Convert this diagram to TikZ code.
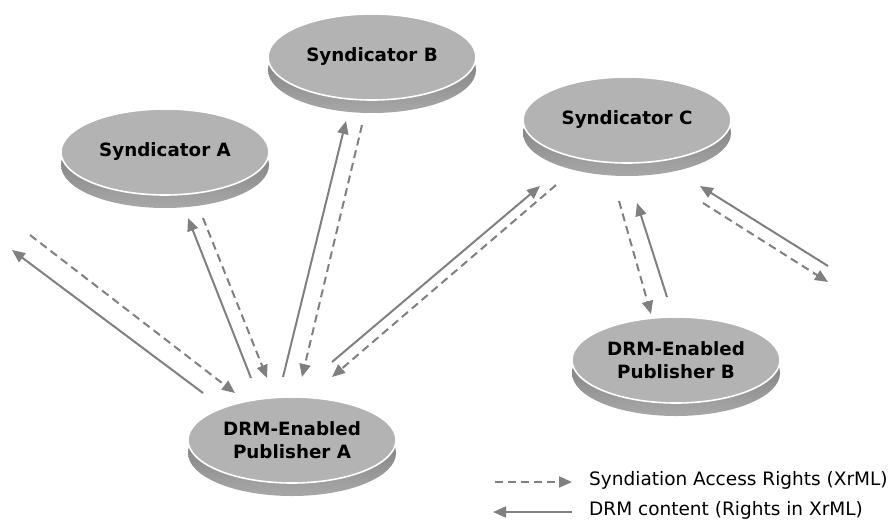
\documentclass[tikz,border=0pt]{standalone}
\usepackage{fontspec}
\setmainfont{DejaVu Sans}
\usetikzlibrary{shapes.geometric,arrows.meta,shadows}

\definecolor{facegray}{HTML}{B3B3B3}
\definecolor{rimdark}{HTML}{6E6E6E}
\definecolor{rimlight}{HTML}{A8A8A8}
\definecolor{linkgray}{HTML}{808080}

\tikzset{
  disk/.style={
    ellipse, inner sep=0pt, minimum width=208pt, minimum height=86pt,
    fill=facegray, draw=white, line width=1.6pt, align=center,
    font=\bfseries\fontsize{18.3}{22.5}\selectfont,
    general shadow={shadow xshift=0pt, shadow yshift=-13pt,
      top color=rimdark, bottom color=rimlight, draw=none}
  },
  link/.style={draw=linkgray, line width=2pt,
    -{Triangle[length=13pt,width=11pt]}},
  rights/.style={link, dash pattern=on 8pt off 5pt},
  content/.style={link},
  legendtext/.style={anchor=west, inner sep=0pt,
    font=\fontsize{18.5}{22}\selectfont}
}

\begin{document}
\begin{tikzpicture}[x=1pt,y=-1pt]
\useasboundingbox (0,0) rectangle (893,523);

% parties
\node[disk] (synA) at (165,152) {Syndicator A};
\node[disk] (synB) at (372,57) {Syndicator B};
\node[disk] (synC) at (627,120) {Syndicator C};
\node[disk] (pubA) at (292,440) {DRM-Enabled\\Publisher A};
\node[disk] (pubB) at (676,360) {DRM-Enabled\\Publisher B};

% end points of the exchanges
\coordinate (oL1) at (203,393);  \coordinate (oL2) at (12,250);
\coordinate (dL1) at (30,235);   \coordinate (dL2) at (235,393);
\coordinate (oA1) at (251,378);  \coordinate (oA2) at (188,218);
\coordinate (dA1) at (203,218);  \coordinate (dA2) at (267,378);
\coordinate (oB1) at (283,377);  \coordinate (oB2) at (346,121);
\coordinate (dB1) at (362,125);  \coordinate (dB2) at (302,377);
\coordinate (oC1) at (332,362);  \coordinate (oC2) at (540,186);
\coordinate (dC1) at (556,185);  \coordinate (dC2) at (332,377);
\coordinate (oP1) at (667,297);  \coordinate (oP2) at (637,203);
\coordinate (dP1) at (619,201);  \coordinate (dP2) at (651,314);
\coordinate (oR1) at (828,266);  \coordinate (oR2) at (700,186);
\coordinate (dR1) at (703,203);  \coordinate (dR2) at (828,282);

% DRM content flows
\draw[content] (oL1) -- (oL2);
\draw[content] (oA1) -- (oA2);
\draw[content] (oB1) -- (oB2);
\draw[content] (oC1) -- (oC2);
\draw[content] (oP1) -- (oP2);
\draw[content] (oR1) -- (oR2);

% syndication access rights
\draw[rights] (dL1) -- (dL2);
\draw[rights] (dA1) -- (dA2);
\draw[rights] (dB1) -- (dB2);
\draw[rights] (dC1) -- (dC2);
\draw[rights] (dP1) -- (dP2);
\draw[rights] (dR1) -- (dR2);

% legend
\coordinate (k1a) at (495,482); \coordinate (k1b) at (572,482);
\coordinate (k2a) at (572,512); \coordinate (k2b) at (493,512);
\draw[rights] (k1a) -- (k1b);
\draw[content] (k2a) -- (k2b);
\node[legendtext] (lgR) at (589,480) {Syndiation Access Rights (XrML)};
\node[legendtext] (lgC) at (589,510) {DRM content (Rights in XrML)};
\end{tikzpicture}
\end{document}
